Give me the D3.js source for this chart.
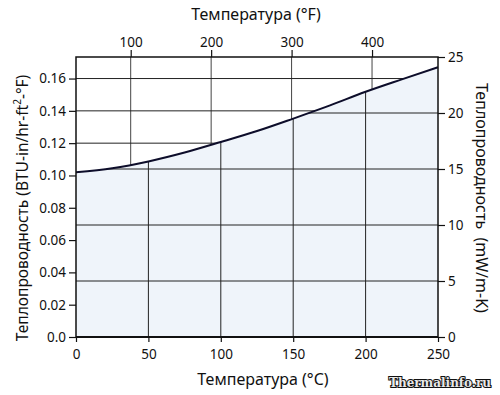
<!DOCTYPE html>
<html>
<head>
<meta charset="utf-8">
<script src="https://cdn.jsdelivr.net/npm/d3@7"></script>
<style>
  body { margin: 0; background: #fff; }
  text { font-family: "Noto Sans", "Open Sans", sans-serif; fill: #111; }
</style>
</head>
<body>
<div id="chart"></div>
<script>
// data: temperature (°C) vs conductivity (BTU-in/hr-ft2-°F)
var tempC = [0, 25, 50, 75, 100, 125, 150, 175, 200, 225, 250];
var kBtu = [0.102, 0.1045, 0.1087, 0.1142, 0.1207, 0.1275, 0.1352, 0.1432, 0.1518, 0.1595, 0.167];

var ticksC = [0, 50, 100, 150, 200, 250];
var ticksF = [100, 200, 300, 400];
var ticksBtu = [0, 0.02, 0.04, 0.06, 0.08, 0.10, 0.12, 0.14, 0.16];
var ticksMw = [0, 5, 10, 15, 20, 25];

var W = 500, H = 395;
var margin = {top: 57, right: 62, bottom: 58, left: 76};
var width = W - margin.left - margin.right,
    height = H - margin.top - margin.bottom;

var svg = d3.select("#chart").append("svg")
    .attr("width", W).attr("height", H);

var g = svg.append("g")
    .attr("transform", "translate(" + margin.left + "," + margin.top + ")");

// scales: °C bottom, °F top, BTU left, mW/m-K right
var x = d3.scaleLinear().domain([0, 250]).range([0, width]);
var xF = d3.scaleLinear().domain([32, 482]).range([0, width]);
var yR = d3.scaleLinear().domain([0, 25]).range([height, 0]);
var y = d3.scaleLinear().domain([0, 25 / 144.228]).range([height, 0]);

var pts = tempC.map(function(t, i) { return {t: t, k: kBtu[i]}; });

var below = d3.area().curve(d3.curveMonotoneX)
    .x(function(d) { return x(d.t); })
    .y0(height)
    .y1(function(d) { return y(d.k); });
var above = d3.area().curve(d3.curveMonotoneX)
    .x(function(d) { return x(d.t); })
    .y0(0)
    .y1(function(d) { return y(d.k); });

var defs = svg.append("defs");
defs.append("clipPath").attr("id", "clipBelow")
    .append("path").attr("d", below(pts));
defs.append("clipPath").attr("id", "clipAbove")
    .append("path").attr("d", above(pts));

// fill under the curve
g.append("path")
    .attr("d", below(pts))
    .attr("fill", "#eff4fa");

// grid above the curve: °F and BTU
var gA = g.append("g").attr("clip-path", "url(#clipAbove)");
gA.selectAll(".vf").data(ticksF).enter().append("line")
    .attr("x1", function(d) { return xF(d); }).attr("x2", function(d) { return xF(d); })
    .attr("y1", 0).attr("y2", height)
    .attr("stroke", "#444").attr("stroke-width", 1);
gA.selectAll(".hb").data(ticksBtu.slice(1)).enter().append("line")
    .attr("x1", 0).attr("x2", width)
    .attr("y1", function(d) { return y(d); }).attr("y2", function(d) { return y(d); })
    .attr("stroke", "#222").attr("stroke-width", 1);

// grid below the curve: °C and mW/m-K
var gB = g.append("g").attr("clip-path", "url(#clipBelow)");
gB.selectAll(".vc").data(ticksC.slice(1, -1)).enter().append("line")
    .attr("x1", function(d) { return x(d); }).attr("x2", function(d) { return x(d); })
    .attr("y1", 0).attr("y2", height)
    .attr("stroke", "#222").attr("stroke-width", 1);
gB.selectAll(".hm").data(ticksMw.slice(1, -1)).enter().append("line")
    .attr("x1", 0).attr("x2", width)
    .attr("y1", function(d) { return yR(d); }).attr("y2", function(d) { return yR(d); })
    .attr("stroke", "#222").attr("stroke-width", 1);

// the curve
g.append("path")
    .datum(pts)
    .attr("fill", "none")
    .attr("stroke", "#0d0d2a")
    .attr("stroke-width", 2)
    .attr("d", d3.line().curve(d3.curveMonotoneX)
        .x(function(d) { return x(d.t); })
        .y(function(d) { return y(d.k); }));

// frame
g.append("rect")
    .attr("width", width).attr("height", height)
    .attr("fill", "none").attr("stroke", "#111").attr("stroke-width", 1.5);

function styleAxis(sel) {
  sel.select(".domain").remove();
  sel.selectAll("line").attr("stroke", "#111").attr("stroke-width", 1.2);
  sel.selectAll("text").style("font-size", "13.5px").attr("fill", "#111");
}

g.append("g")
    .call(d3.axisLeft(y).tickValues(ticksBtu).tickSize(7).tickPadding(3)
        .tickFormat(function(d) { return d === 0 ? "0.0" : d3.format(".2f")(d); }))
    .call(styleAxis);

g.append("g")
    .attr("transform", "translate(" + width + ",0)")
    .call(d3.axisRight(yR).tickValues(ticksMw).tickSize(7).tickPadding(3))
    .call(styleAxis);

g.append("g")
    .attr("transform", "translate(0," + height + ")")
    .call(d3.axisBottom(x).tickValues(ticksC).tickSize(5).tickPadding(7))
    .call(styleAxis);

g.append("g")
    .call(d3.axisTop(xF).tickValues(ticksF).tickSize(7).tickPadding(3))
    .call(styleAxis);

// thicker bottom line
g.append("line")
    .attr("x1", 0).attr("x2", width)
    .attr("y1", height).attr("y2", height)
    .attr("stroke", "#111").attr("stroke-width", 2);

// axis titles
svg.append("text")
    .attr("x", 256).attr("y", 20)
    .attr("text-anchor", "middle").style("font-size", "16px")
    .text("Температура (°F)");

svg.append("text")
    .attr("x", 263).attr("y", 385)
    .attr("text-anchor", "middle").style("font-size", "16px")
    .text("Температура (°C)");

var lt = svg.append("text")
    .attr("transform", "translate(28," + 208 + ") rotate(-90)")
    .attr("text-anchor", "middle").style("font-size", "15.5px");
lt.append("tspan").text("Теплопроводность (BTU-in/hr-ft");
lt.append("tspan").attr("baseline-shift", "super").style("font-size", "10px").text("2");
lt.append("tspan").attr("baseline-shift", "0").text("-°F)");

svg.append("text")
    .attr("transform", "translate(476," + 198 + ") rotate(90)")
    .attr("text-anchor", "middle").style("font-size", "16px")
    .attr("xml:space", "preserve")
    .text("Теплопроводность  (mW/m-K)");

// watermark
svg.append("text")
    .attr("x", 389).attr("y", 387)
    .attr("textLength", 102).attr("lengthAdjust", "spacingAndGlyphs")
    .style("font-family", "'DejaVu Serif', serif")
    .style("font-size", "13px").style("font-weight", "bold")
    .style("fill", "#e8e8e8").attr("stroke", "#111").attr("stroke-width", 2.2)
    .style("paint-order", "stroke")
    .text("Thermalinfo.ru");
</script>
</body>
</html>
